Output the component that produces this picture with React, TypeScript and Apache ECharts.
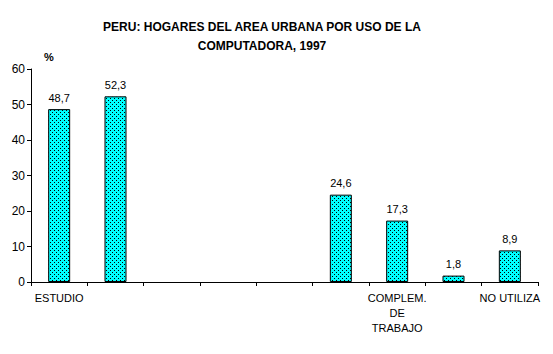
import React, { useEffect, useRef } from "react";
import * as echarts from "echarts";

const categories = ["ESTUDIO", "", "", "", "", "", "COMPLEM.\nDE\nTRABAJO", "", "NO UTILIZA"];
const values: (number | null)[] = [48.7, 52.3, null, null, null, 24.6, 17.3, 1.8, 8.9];
const titleText = "PERU: HOGARES DEL AREA URBANA POR USO DE LA\nCOMPUTADORA, 1997";
const yMin = 0;
const yMax = 60;
const yStep = 10;

function makePattern(): HTMLCanvasElement {
  const c = document.createElement("canvas");
  c.width = 4;
  c.height = 4;
  const ctx = c.getContext("2d")!;
  ctx.fillStyle = "#00FFFF";
  ctx.fillRect(0, 0, 4, 4);
  ctx.fillStyle = "#000000";
  ctx.fillRect(0, 0, 1, 1);
  ctx.fillRect(2, 2, 1, 1);
  return c;
}

export default function App() {
  const ref = useRef<HTMLDivElement>(null);
  useEffect(() => {
    if (!ref.current) return;
    const chart = echarts.init(ref.current, null, { renderer: "svg" });
    const pattern = makePattern();
    const font = "Liberation Sans, Arial, sans-serif";
    chart.setOption({
      animation: false,
      backgroundColor: "#ffffff",
      title: {
        text: titleText,
        left: 257,
        textAlign: "center",
        top: 12,
        textStyle: {
          fontFamily: font,
          fontSize: 12,
          fontWeight: "bold",
          color: "#000",
          lineHeight: 19,
        },
      },
      grid: { left: 31, right: 15, top: 69, bottom: 72, containLabel: false },
      xAxis: {
        type: "category",
        data: categories,
        boundaryGap: true,
        axisLine: { lineStyle: { color: "#000", width: 1 } },
        axisTick: { show: true, alignWithLabel: false, length: 4, lineStyle: { color: "#000" } },
        axisLabel: {
          interval: 0,
          color: "#000",
          fontFamily: font,
          fontSize: 11,
          lineHeight: 15,
          margin: 8,
        },
      },
      yAxis: {
        type: "value",
        min: yMin,
        max: yMax,
        interval: yStep,
        name: "%",
        nameLocation: "end",
        nameGap: 7,
        nameTextStyle: {
          fontFamily: font,
          fontSize: 11,
          fontWeight: "bold",
          color: "#000",
          align: "left",
          padding: [0, 0, 0, 13],
        },
        splitLine: { show: false },
        axisLine: { show: true, lineStyle: { color: "#000", width: 1 } },
        axisTick: { show: true, length: 4, lineStyle: { color: "#000" } },
        axisLabel: { color: "#000", fontFamily: font, fontSize: 12, margin: 6 },
      },
      series: [
        {
          type: "bar",
          data: values,
          barWidth: 22,
          itemStyle: {
            color: { image: pattern, repeat: "repeat", x: 0.5, y: 0.5 },
            borderColor: "#000",
            borderWidth: 1,
          },
          label: {
            show: true,
            position: "top",
            distance: 6,
            color: "#000",
            fontFamily: font,
            fontSize: 11,
            formatter: (p: any) => String(p.value).replace(".", ","),
          },
        },
      ],
    });
    return () => chart.dispose();
  }, []);
  return (
    <>
      <style>{"body{margin:0} image{image-rendering:pixelated}"}</style>
      <div ref={ref} style={{ width: 553, height: 354 }} />
    </>
  );
}
